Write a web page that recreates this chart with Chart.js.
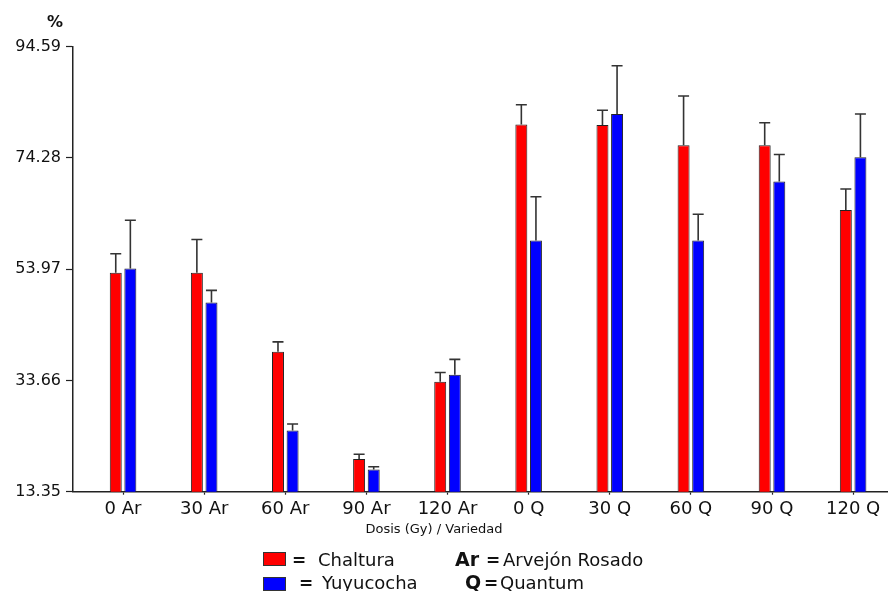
<!DOCTYPE html>
<html>
<head>
<meta charset="utf-8">
<script src="https://cdn.jsdelivr.net/npm/chart.js@4.4.1/dist/chart.umd.min.js"></script>
<style>
  html, body { margin: 0; padding: 0; background: #fff; }
  #wrap { position: relative; width: 888px; height: 591px; }
</style>
</head>
<body>
<div id="wrap"><canvas id="grafico"></canvas></div>
<script>
// Datos
const categorias = ["0 Ar", "30 Ar", "60 Ar", "90 Ar", "120 Ar", "0 Q", "30 Q", "60 Q", "90 Q", "120 Q"];
const chaltura = [53.3, 53.3, 38.9, 19.3, 33.4, 80.4, 80.3, 76.6, 76.6, 64.8];
const chalturaErr = [3.5, 6.1, 1.8, 0.9, 1.7, 3.6, 2.7, 9.0, 4.1, 3.8];
const yuyucocha = [54.1, 47.9, 24.5, 17.4, 34.7, 59.2, 82.3, 59.2, 70.0, 74.4];
const yuyucochaErr = [8.8, 2.2, 1.2, 0.5, 2.8, 8.0, 8.8, 4.8, 4.9, 7.9];
const yTicks = [13.35, 33.66, 53.97, 74.28, 94.59];

const tinta = "#222";

// barras de error (solo hacia arriba)
const barrasError = {
  id: "barrasError",
  afterDatasetsDraw(chart) {
    const ctx = chart.ctx;
    const y = chart.scales.y;
    ctx.save();
    ctx.strokeStyle = "#333";
    ctx.lineWidth = 1.6;
    chart.data.datasets.forEach((ds, d) => {
      const meta = chart.getDatasetMeta(d);
      meta.data.forEach((bar, i) => {
        const top = y.getPixelForValue(ds.data[i].y + ds.errores[i]);
        ctx.beginPath();
        ctx.moveTo(bar.x, bar.y);
        ctx.lineTo(bar.x, top);
        ctx.moveTo(bar.x - 5.5, top);
        ctx.lineTo(bar.x + 5.5, top);
        ctx.stroke();
      });
    });
    ctx.restore();
  }
};

// textos sueltos: %, titulo del eje x y leyenda
const textos = {
  id: "textos",
  afterDraw(chart) {
    const ctx = chart.ctx;
    ctx.save();
    ctx.fillStyle = "#111";
    ctx.textBaseline = "alphabetic";

    ctx.font = "bold 16px 'DejaVu Sans'";
    ctx.textAlign = "center";
    ctx.fillText("%", 55, 27);

    ctx.font = "13px 'DejaVu Sans'";
    ctx.fillText("Dosis (Gy) / Variedad", 434, 533);

    // leyenda
    ctx.textAlign = "left";
    ctx.strokeStyle = "#333";
    ctx.lineWidth = 1;
    ctx.fillStyle = "#ff0000";
    ctx.fillRect(263, 552, 23, 14);
    ctx.strokeRect(263.5, 552.5, 22, 13);
    ctx.fillStyle = "#0000ff";
    ctx.fillRect(263, 577, 23, 14);
    ctx.strokeRect(263.5, 577.5, 22, 13);

    ctx.fillStyle = "#111";
    ctx.font = "bold 17px 'DejaVu Sans'";
    ctx.fillText("=", 292, 566);
    ctx.fillText("=", 299, 589);
    ctx.fillText("=", 486, 566);
    ctx.fillText("=", 484, 589);
    ctx.font = "bold 19px 'DejaVu Sans'";
    ctx.fillText("Ar", 455, 566);
    ctx.fillText("Q", 465, 589);

    ctx.font = "18px 'DejaVu Sans'";
    ctx.fillText("Chaltura", 318, 566);
    ctx.fillText("Yuyucocha", 322, 589);
    ctx.fillText("Arvejón Rosado", 503, 566);
    ctx.fillText("Quantum", 500, 589);
    ctx.restore();
  }
};

const ctx = document.getElementById("grafico").getContext("2d");
new Chart(ctx, {
  type: "bar",
  data: {
    datasets: [
      {
        label: "Chaltura",
        data: chaltura.map((v, i) => ({ x: i, y: v })),
        errores: chalturaErr,
        backgroundColor: "#ff0000",
        borderColor: tinta,
        borderWidth: 1,
      },
      {
        label: "Yuyucocha",
        data: yuyucocha.map((v, i) => ({ x: i, y: v })),
        errores: yuyucochaErr,
        backgroundColor: "#0000ff",
        borderColor: tinta,
        borderWidth: 1,
      },
    ],
  },
  options: {
    responsive: true,
    maintainAspectRatio: false,
    animation: false,
    categoryPercentage: 0.36,
    barPercentage: 0.82,
    layout: { padding: { top: 46.7, right: 0, left: 0, bottom: 0 } },
    scales: {
      x: {
        type: "linear",
        offset: false,
        min: -0.617,
        max: 9.43,
        afterFit: (scale) => { scale.height = 99.3; },
        afterBuildTicks: (scale) => {
          scale.ticks = categorias.map((c, i) => ({ value: i }));
        },
        border: { color: tinta, width: 1.5 },
        grid: { offset: false, drawOnChartArea: false, tickLength: 3, color: tinta, tickWidth: 1.2 },
        ticks: {
          padding: 4,
          color: "#111",
          font: { family: "'DejaVu Sans'", size: 18 },
          callback: (v) => categorias[v],
        },
      },
      y: {
        min: 13.35,
        max: 94.59,
        afterFit: (scale) => { scale.width = 73; },
        afterBuildTicks: (scale) => {
          scale.ticks = yTicks.map((v) => ({ value: v }));
        },
        border: { color: tinta, width: 1.5 },
        grid: { drawOnChartArea: false, tickLength: 7, color: tinta, tickWidth: 1.2 },
        ticks: {
          padding: 5,
          color: "#111",
          font: { family: "'DejaVu Sans'", size: 16 },
          callback: (v) => v.toFixed(2),
        },
      },
    },
    plugins: {
      legend: { display: false },
      tooltip: { enabled: false },
    },
  },
  plugins: [barrasError, textos],
});
</script>
</body>
</html>
